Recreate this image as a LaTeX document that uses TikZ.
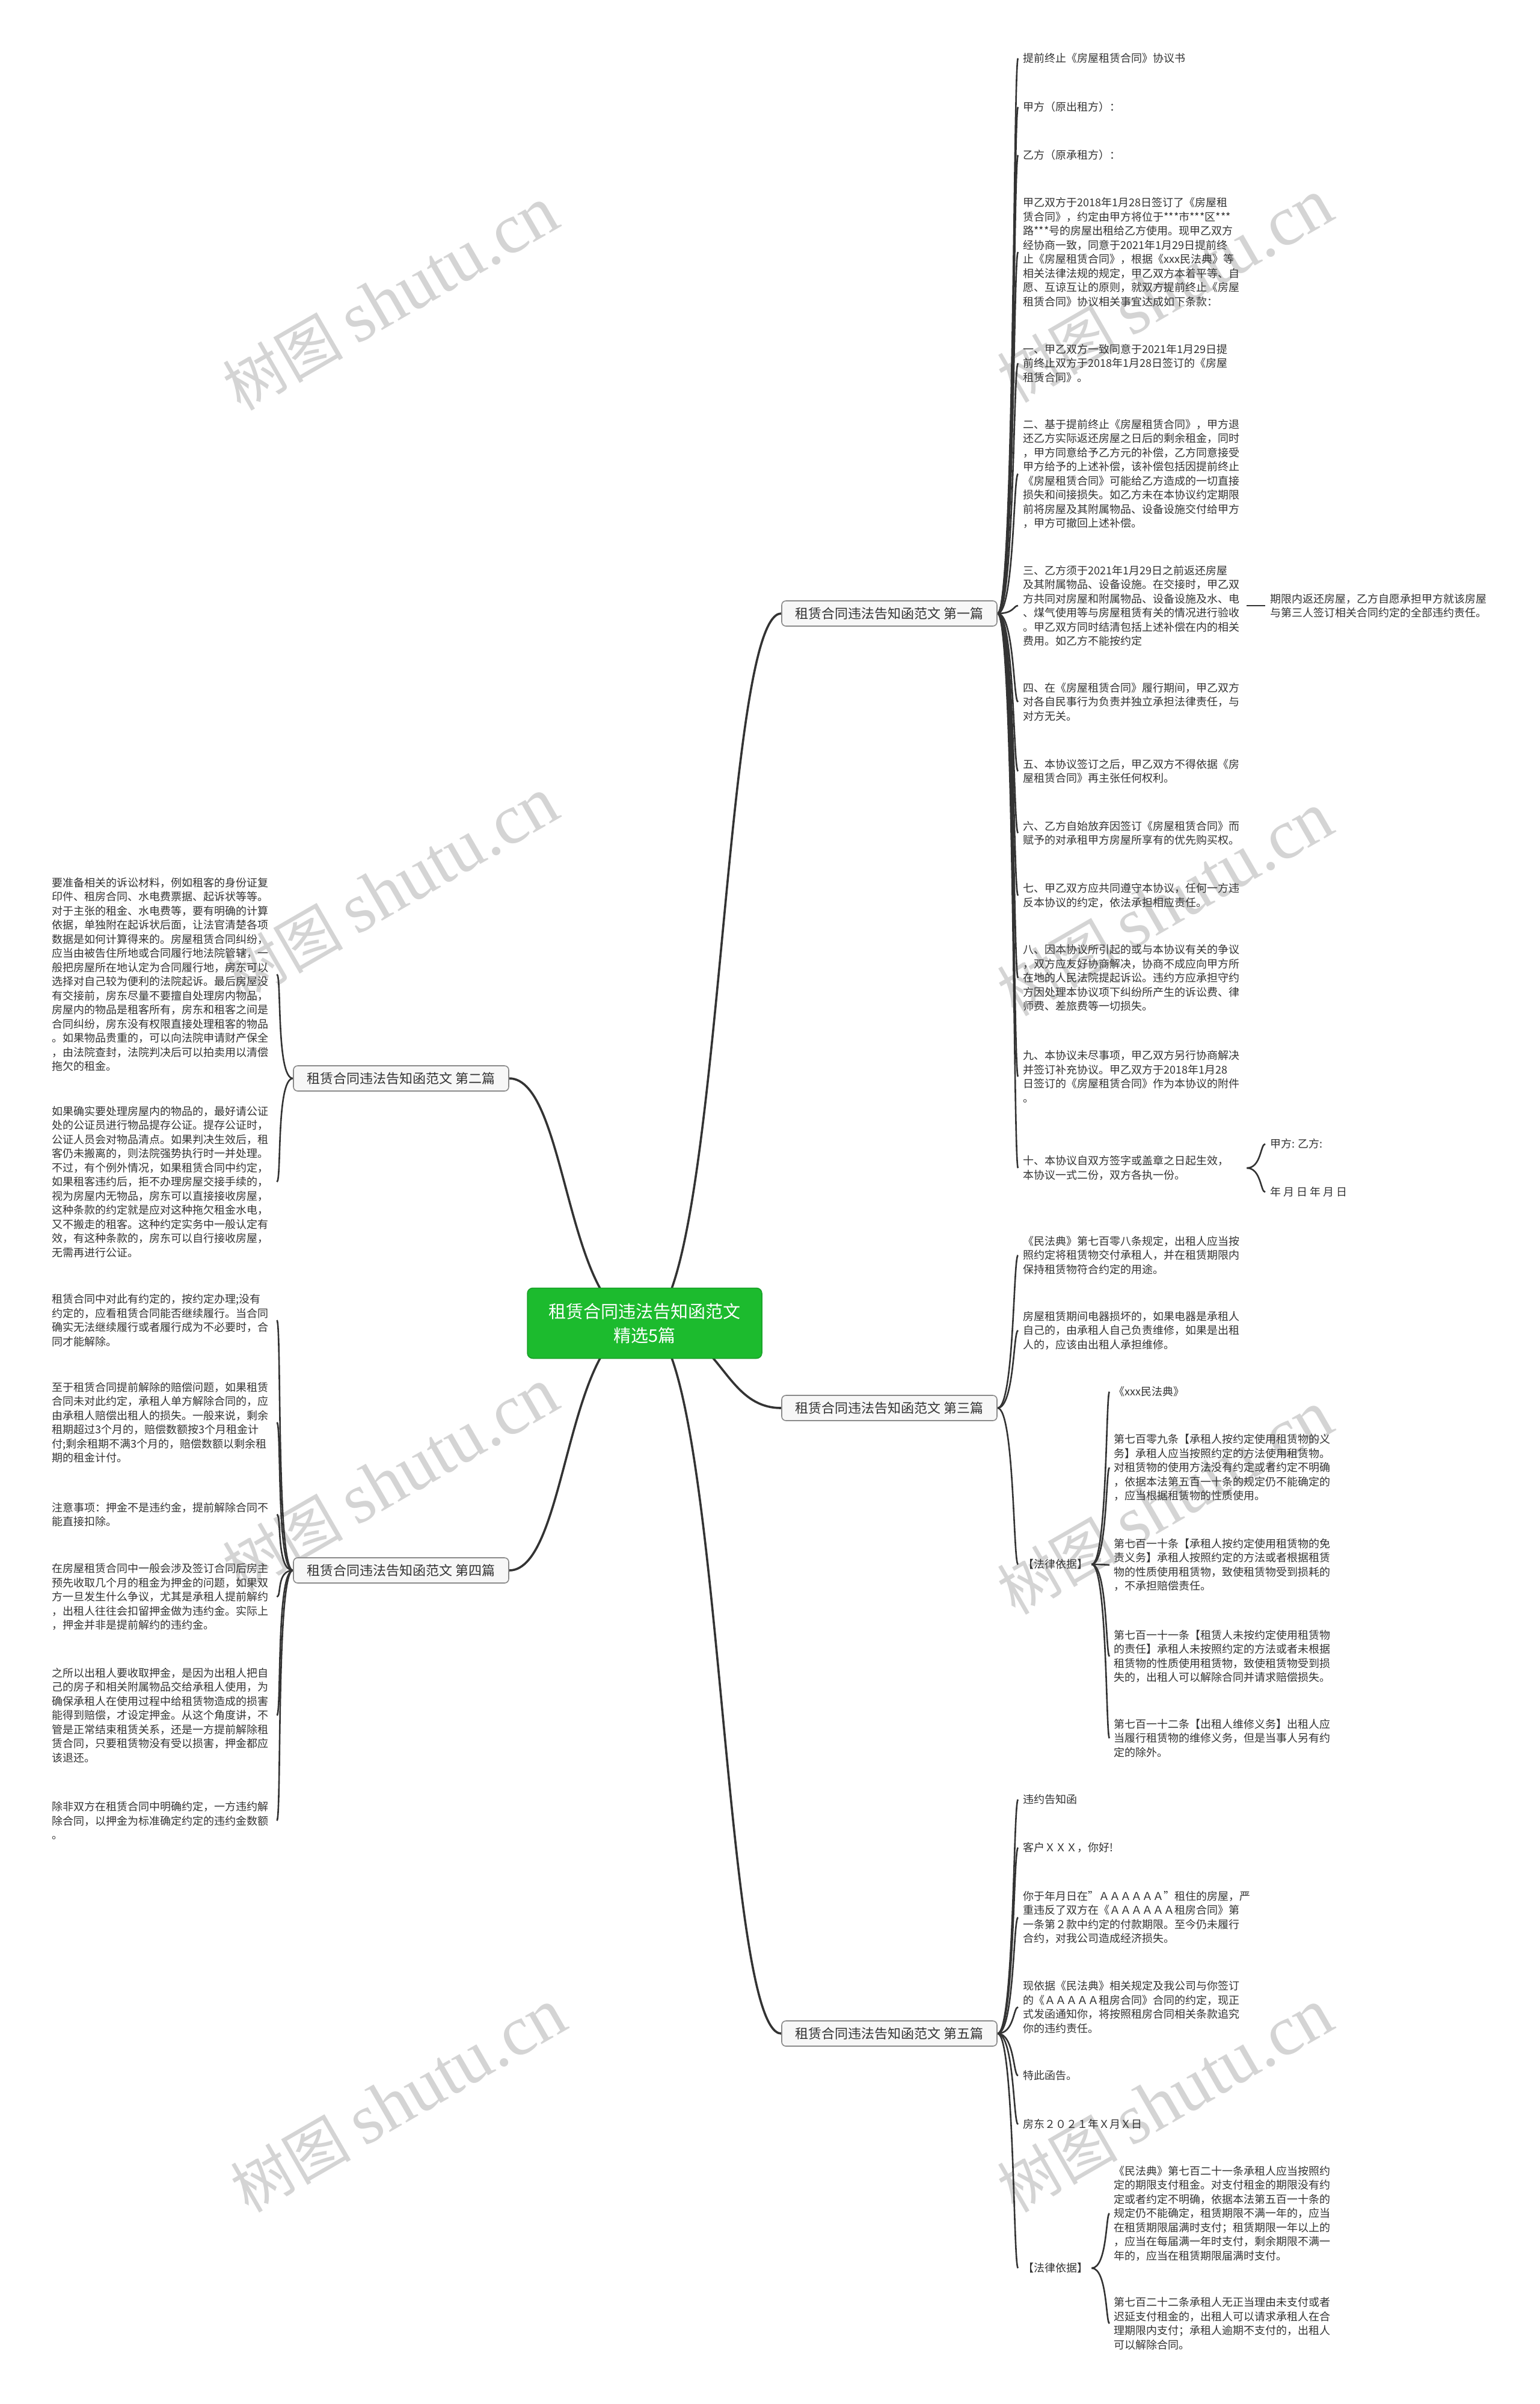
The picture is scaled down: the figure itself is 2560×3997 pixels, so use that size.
\documentclass[tikz,border=0pt]{standalone}
\usepackage{fontspec}
\setmainfont{Noto Sans CJK SC}
\newfontfamily\wmserif{Liberation Serif}
\usetikzlibrary{calc}
\definecolor{rootgreen}{HTML}{1CBB2E}
\definecolor{txtc}{HTML}{333333}
\definecolor{linec}{HTML}{333333}
\definecolor{bbord}{HTML}{8A8A8A}
\definecolor{bfill}{HTML}{F7F7F7}
\definecolor{wmc}{HTML}{D4D4D4}
\pgfdeclarelayer{bg}
\pgfsetlayers{bg,main}
\begin{document}
\begin{tikzpicture}[x=1pt,y=-1pt,
 txt/.style={anchor=west,align=left,inner sep=0pt,text width=362pt,font=\fontsize{18pt}{23.5pt}\selectfont,text=txtc},
 lbl/.style={anchor=west,align=left,inner sep=0pt,font=\fontsize{18pt}{23.5pt}\selectfont,text=txtc},
 branch/.style={draw=bbord,line width=1.6pt,fill=bfill,rounded corners=7pt,minimum width=358pt,minimum height=42pt,inner sep=0pt,font=\fontsize{22pt}{26pt}\selectfont,text=txtc},
 rootbox/.style={fill=rootgreen,draw=rootgreen!85!black,line width=1.5pt,rounded corners=9pt,minimum width=390pt,minimum height=117pt,align=center,text=white,font=\fontsize{29pt}{40pt}\selectfont},
 link/.style={draw=linec,line width=2.6pt},
 mlink/.style={draw=linec,line width=3.6pt},
 wm/.style={text=wmc,rotate=30,inner sep=0pt,font=\fontsize{100pt}{110pt}\selectfont}
]
\useasboundingbox (0,0) rectangle (2560,3997);

% root and branches
\node[rootbox] (root) at (1072,2200) {租赁合同违法告知函范文\\精选5篇};
\node[branch] (b1) at (1479,1020) {租赁合同违法告知函范文 第一篇};
\node[branch] (b2) at (667,1793) {租赁合同违法告知函范文 第二篇};
\node[branch] (b3) at (1479,2341) {租赁合同违法告知函范文 第三篇};
\node[branch] (b4) at (667,2611) {租赁合同违法告知函范文 第四篇};
\node[branch] (b5) at (1479,3381) {租赁合同违法告知函范文 第五篇};

% branch 1
\node[txt] (c1) at (1701,97) {提前终止《房屋租赁合同》协议书};
\node[txt] (c2) at (1701,178) {甲方（原出租方）：};
\node[txt] (c3) at (1701,258) {乙方（原承租方）：};
\node[txt] (c4) at (1701,419) {甲乙双方于2018年1月28日签订了《房屋租\\赁合同》，约定由甲方将位于***市***区***\\路***号的房屋出租给乙方使用。现甲乙双方\\经协商一致，同意于2021年1月29日提前终\\止《房屋租赁合同》，根据《xxx民法典》等\\相关法律法规的规定，甲乙双方本着平等、自\\愿、互谅互让的原则，就双方提前终止《房屋\\租赁合同》协议相关事宜达成如下条款：};
\node[txt] (c5) at (1701,604) {一、甲乙双方一致同意于2021年1月29日提\\前终止双方于2018年1月28日签订的《房屋\\租赁合同》。};
\node[txt] (c6) at (1701,788) {二、基于提前终止《房屋租赁合同》，甲方退\\还乙方实际返还房屋之日后的剩余租金，同时\\，甲方同意给予乙方元的补偿，乙方同意接受\\甲方给予的上述补偿，该补偿包括因提前终止\\《房屋租赁合同》可能给乙方造成的一切直接\\损失和间接损失。如乙方未在本协议约定期限\\前将房屋及其附属物品、设备设施交付给甲方\\，甲方可撤回上述补偿。};
\node[txt] (c7) at (1701,1007) {三、乙方须于2021年1月29日之前返还房屋\\及其附属物品、设备设施。在交接时，甲乙双\\方共同对房屋和附属物品、设备设施及水、电\\、煤气使用等与房屋租赁有关的情况进行验收\\。甲乙双方同时结清包括上述补偿在内的相关\\费用。如乙方不能按约定};
\node[txt] (c7a) at (2112,1007) {期限内返还房屋，乙方自愿承担甲方就该房屋\\与第三人签订相关合同约定的全部违约责任。};
\node[txt] (c8) at (1701,1167) {四、在《房屋租赁合同》履行期间，甲乙双方\\对各自民事行为负责并独立承担法律责任，与\\对方无关。};
\node[txt] (c9) at (1701,1282) {五、本协议签订之后，甲乙双方不得依据《房\\屋租赁合同》再主张任何权利。};
\node[txt] (c10) at (1701,1385) {六、乙方自始放弃因签订《房屋租赁合同》而\\赋予的对承租甲方房屋所享有的优先购买权。};
\node[txt] (c11) at (1701,1489) {七、甲乙双方应共同遵守本协议，任何一方违\\反本协议的约定，依法承担相应责任。};
\node[txt] (c12) at (1701,1626) {八、因本协议所引起的或与本协议有关的争议\\，双方应友好协商解决，协商不成应向甲方所\\在地的人民法院提起诉讼。违约方应承担守约\\方因处理本协议项下纠纷所产生的诉讼费、律\\师费、差旅费等一切损失。};
\node[txt] (c13) at (1701,1790) {九、本协议未尽事项，甲乙双方另行协商解决\\并签订补充协议。甲乙双方于2018年1月28\\日签订的《房屋租赁合同》作为本协议的附件\\。};
\node[txt] (c14) at (1701,1942) {十、本协议自双方签字或盖章之日起生效，\\本协议一式二份，双方各执一份。};
\node[lbl] (c14a) at (2112,1902) {甲方: 乙方:};
\node[lbl] (c14b) at (2112,1982) {年 月 日 年 月 日};

% branch 2
\node[txt] (h1) at (86,1620) {要准备相关的诉讼材料，例如租客的身份证复\\印件、租房合同、水电费票据、起诉状等等。\\对于主张的租金、水电费等，要有明确的计算\\依据，单独附在起诉状后面，让法官清楚各项\\数据是如何计算得来的。房屋租赁合同纠纷，\\应当由被告住所地或合同履行地法院管辖，一\\般把房屋所在地认定为合同履行地，房东可以\\选择对自己较为便利的法院起诉。最后房屋没\\有交接前，房东尽量不要擅自处理房内物品，\\房屋内的物品是租客所有，房东和租客之间是\\合同纠纷，房东没有权限直接处理租客的物品\\。如果物品贵重的，可以向法院申请财产保全\\，由法院查封，法院判决后可以拍卖用以清偿\\拖欠的租金。};
\node[txt] (h2) at (86,1965) {如果确实要处理房屋内的物品的，最好请公证\\处的公证员进行物品提存公证。提存公证时，\\公证人员会对物品清点。如果判决生效后，租\\客仍未搬离的，则法院强势执行时一并处理。\\不过，有个例外情况，如果租赁合同中约定，\\如果租客违约后，拒不办理房屋交接手续的，\\视为房屋内无物品，房东可以直接接收房屋，\\这种条款的约定就是应对这种拖欠租金水电，\\又不搬走的租客。这种约定实务中一般认定有\\效，有这种条款的，房东可以自行接收房屋，\\无需再进行公证。};

% branch 3
\node[txt] (d1) at (1701,2087) {《民法典》第七百零八条规定，出租人应当按\\照约定将租赁物交付承租人，并在租赁期限内\\保持租赁物符合约定的用途。};
\node[txt] (d2) at (1701,2212) {房屋租赁期间电器损坏的，如果电器是承租人\\自己的，由承租人自己负责维修，如果是出租\\人的，应该由出租人承担维修。};
\node[lbl] (d3) at (1701,2601) {【法律依据】};
\node[txt] (e1) at (1852,2314) {《xxx民法典》};
\node[txt] (e2) at (1852,2440) {第七百零九条【承租人按约定使用租赁物的义\\务】承租人应当按照约定的方法使用租赁物。\\对租赁物的使用方法没有约定或者约定不明确\\，依据本法第五百一十条的规定仍不能确定的\\，应当根据租赁物的性质使用。};
\node[txt] (e3) at (1852,2602) {第七百一十条【承租人按约定使用租赁物的免\\责义务】承租人按照约定的方法或者根据租赁\\物的性质使用租赁物，致使租赁物受到损耗的\\，不承担赔偿责任。};
\node[txt] (e4) at (1852,2754) {第七百一十一条【租赁人未按约定使用租赁物\\的责任】承租人未按照约定的方法或者未根据\\租赁物的性质使用租赁物，致使租赁物受到损\\失的，出租人可以解除合同并请求赔偿损失。};
\node[txt] (e5) at (1852,2890) {第七百一十二条【出租人维修义务】出租人应\\当履行租赁物的维修义务，但是当事人另有约\\定的除外。};

% branch 4
\node[txt] (i1) at (86,2195) {租赁合同中对此有约定的，按约定办理;没有\\约定的，应看租赁合同能否继续履行。当合同\\确实无法继续履行或者履行成为不必要时，合\\同才能解除。};
\node[txt] (i2) at (86,2365) {至于租赁合同提前解除的赔偿问题，如果租赁\\合同未对此约定，承租人单方解除合同的，应\\由承租人赔偿出租人的损失。一般来说，剩余\\租期超过3个月的，赔偿数额按3个月租金计\\付;剩余租期不满3个月的，赔偿数额以剩余租\\期的租金计付。};
\node[txt] (i3) at (86,2518) {注意事项：押金不是违约金，提前解除合同不\\能直接扣除。};
\node[txt] (i4) at (86,2655) {在房屋租赁合同中一般会涉及签订合同后房主\\预先收取几个月的租金为押金的问题，如果双\\方一旦发生什么争议，尤其是承租人提前解约\\，出租人往往会扣留押金做为违约金。实际上\\，押金并非是提前解约的违约金。};
\node[txt] (i5) at (86,2852) {之所以出租人要收取押金，是因为出租人把自\\己的房子和相关附属物品交给承租人使用，为\\确保承租人在使用过程中给租赁物造成的损害\\能得到赔偿，才设定押金。从这个角度讲，不\\管是正常结束租赁关系，还是一方提前解除租\\赁合同，只要租赁物没有受以损害，押金都应\\该退还。};
\node[txt] (i6) at (86,3027) {除非双方在租赁合同中明确约定，一方违约解\\除合同，以押金为标准确定约定的违约金数额\\。};

% branch 5
\node[txt] (f1) at (1701,2992) {违约告知函};
\node[txt] (f2) at (1701,3072) {客户ＸＸＸ，你好!};
\node[txt] (f3) at (1701,3188) {你于年月日在"ＡＡＡＡＡＡ"租住的房屋，严\\重违反了双方在《ＡＡＡＡＡＡ租房合同》第\\一条第２款中约定的付款期限。至今仍未履行\\合约，对我公司造成经济损失。};
\node[txt] (f4) at (1701,3337) {现依据《民法典》相关规定及我公司与你签订\\的《ＡＡＡＡＡ租房合同》合同的约定，现正\\式发函通知你，将按照租房合同相关条款追究\\你的违约责任。};
\node[txt] (f5) at (1701,3451) {特此函告。};
\node[txt] (f6) at (1701,3532) {房东２０２１年Ｘ月Ｘ日};
\node[lbl] (f7) at (1701,3771) {【法律依据】};
\node[txt] (g1) at (1852,3680) {《民法典》第七百二十一条承租人应当按照约\\定的期限支付租金。对支付租金的期限没有约\\定或者约定不明确，依据本法第五百一十条的\\规定仍不能确定，租赁期限不满一年的，应当\\在租赁期限届满时支付；租赁期限一年以上的\\，应当在每届满一年时支付，剩余期限不满一\\年的，应当在租赁期限届满时支付。};
\node[txt] (g2) at (1852,3863) {第七百二十二条承租人无正当理由未支付或者\\迟延支付租金的，出租人可以请求承租人在合\\理期限内支付；承租人逾期不支付的，出租人\\可以解除合同。};

\begin{pgfonlayer}{bg}
\fill[white] (0,0) rectangle (2560,3997);
% watermarks
\foreach \wx/\wy [count=\k] in {650/497,1938/484,650/1479,1938/1504,650/2461,1938/2499,663/3493,1938/3493}{
  \node[wm] (wm\k) at (\wx,\wy) {树图 {\wmserif\fontsize{118pt}{120pt}\selectfont shutu.cn}};
}
% root links
\foreach \b in {b1,b3,b5}{
  \draw[mlink] (root.center) .. controls +(128,0) and +(-100,0) .. (\b.west);
}
\foreach \b in {b2,b4}{
  \draw[mlink] (root.center) .. controls +(-132,0) and +(98,0) .. (\b.east);
}
% branch 1 links
\foreach \c in {c1,c2,c3,c4,c5,c6,c7,c8,c9,c10,c11,c12,c13,c14}{
  \draw[link] (b1.east) .. controls +(28,0) and +(-8,0) .. ([xshift=-8pt]\c.west);
}
\draw[link] ([xshift=10pt]c7.east) -- ([xshift=-8pt]c7a.west);
\foreach \c in {c14a,c14b}{
  \draw[link] ([xshift=10pt]c14.east) .. controls +(24,0) and +(-8,0) .. ([xshift=-8pt]\c.west);
}
% branch 2 links
\foreach \c in {h1,h2}{
  \draw[link] (b2.west) .. controls +(-28,0) and +(8,0) .. ([xshift=12pt]\c.east);
}
% branch 3 links
\foreach \c in {d1,d2,d3}{
  \draw[link] (b3.east) .. controls +(28,0) and +(-8,0) .. ([xshift=-8pt]\c.west);
}
\foreach \c in {e1,e2,e3,e4,e5}{
  \draw[link] ([xshift=6pt]d3.east) .. controls +(26,0) and +(-6,0) .. ([xshift=-7pt]\c.west);
}
% branch 4 links
\foreach \c in {i1,i2,i3,i4,i5,i6}{
  \draw[link] (b4.west) .. controls +(-28,0) and +(8,0) .. ([xshift=12pt]\c.east);
}
% branch 5 links
\foreach \c in {f1,f2,f3,f4,f5,f6,f7}{
  \draw[link] (b5.east) .. controls +(28,0) and +(-8,0) .. ([xshift=-8pt]\c.west);
}
\foreach \c in {g1,g2}{
  \draw[link] ([xshift=6pt]f7.east) .. controls +(26,0) and +(-6,0) .. ([xshift=-7pt]\c.west);
}
\end{pgfonlayer}
\end{tikzpicture}
\end{document}
